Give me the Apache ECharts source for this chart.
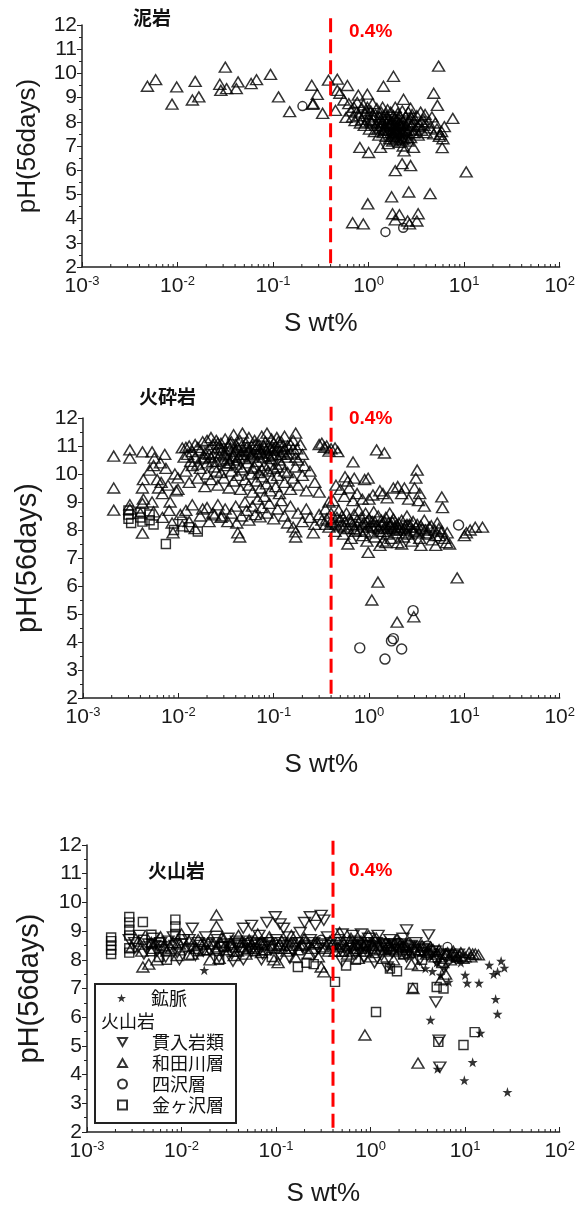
<!DOCTYPE html>
<html><head><meta charset="utf-8">
<script src="https://cdn.jsdelivr.net/npm/echarts@6/dist/echarts.min.js"></script>
<style>html,body{margin:0;padding:0;background:#fff}#c{width:578px;height:1209px}</style>
</head><body><div id="c"></div>
<script>
// ---------- tick labels ----------
const xTickExponents = ['-3','-2','-1','0','1','2'];
const yTicks = [2,3,4,5,6,7,8,9,10,11,12];
const panelTitles = ['泥岩','火砕岩','火山岩'];
const thresholdS = 0.4;
const thresholdLabel = '0.4%';

// ---------- panel 1 (泥岩) ----------
const p1Triangles = [
[0.00484,9.47],[0.0059,9.74],[0.00875,8.73],[0.0098,9.44],[0.0143,8.9],[0.0153,9.67],[0.0167,9.03],[0.0277,9.55],[0.0284,9.3],[0.0316,10.26],[0.0326,9.37],[0.0412,9.37],[0.043,9.65],[0.0589,9.58],[0.0671,9.74],[0.094,9.96],[0.114,9.03],[0.149,8.42],
[0.254,9.51],[0.262,8.76],[0.29,9.13],[0.26,8.72],[0.33,8.35],[0.38,9.72],[0.47,9.76],[0.45,8.47],[0.47,9.3],[0.5,9.18],[0.55,8.9],[0.6,9.5],[0.58,8.18],[0.78,9.1],[0.97,9.14],
[5.4,10.3],[1.82,9.88],[1.43,9.47],[2.32,8.93],[4.8,9.18],[5.25,8.68],[7.6,8.14],[2.75,8.56],[5.62,7.47],[5.89,6.93],[10.5,5.93],
[0.81,6.94],[1.0,6.73],[1.33,6.94],[2.35,6.8],[2.95,6.94],[1.9,5.98],[2.24,6.27],[2.75,6.19],
[0.98,4.61],[1.74,4.9],[2.63,5.1],[4.4,5.03],[0.68,3.83],[0.88,3.78],[1.78,4.2],[2.1,4.16],[1.9,3.95],[2.56,3.9],[2.68,3.78],[3.3,4.2],[3.2,3.9],
[0.62,8.75],[0.65,8.45],[0.68,8.2],[0.7,8.6],[0.72,8.05],[0.75,8.4],[0.76,8.8],[0.8,8.25],[0.82,7.95],[0.85,8.55],[0.85,8.1],[0.88,8.7],[0.9,7.85],[0.92,8.35],[0.95,8.0],[0.97,8.6],
[1.0,8.2],[1.02,7.7],[1.05,8.45],[1.08,7.95],[1.1,8.75],[1.12,8.1],[1.15,7.6],[1.18,8.3],[1.2,7.85],[1.22,8.55],[1.25,8.0],[1.28,7.45],[1.3,8.2],[1.32,7.75],[1.35,8.4],[1.38,7.95],
[1.4,8.6],[1.42,7.55],[1.45,8.1],[1.48,7.8],[1.5,8.3],[1.52,7.4],[1.55,7.95],[1.58,8.5],[1.6,7.65],[1.62,8.15],[1.65,7.3],[1.68,7.85],[1.7,8.4],[1.72,7.55],[1.75,8.0],[1.78,7.2],
[1.8,7.7],[1.82,8.25],[1.85,7.45],[1.88,7.9],[1.9,8.6],[1.92,7.6],[1.95,8.1],[1.98,7.35],[2.0,7.8],[2.02,8.35],[2.05,7.5],[2.08,7.95],[2.1,7.15],[2.12,7.7],[2.15,8.2],[2.18,7.4],
[2.2,7.85],[2.25,8.45],[2.28,7.6],[2.3,8.05],[2.35,7.3],[2.4,7.75],[2.45,8.2],[2.5,7.5],[2.55,7.95],[2.6,8.4],[2.65,7.65],[2.7,8.1],[2.75,7.35],[2.8,7.85],[2.85,8.3],[2.9,7.55],
[3.0,8.0],[3.1,7.7],[3.2,8.25],[3.3,7.45],[3.4,7.9],[3.5,8.4],[3.6,7.65],[3.7,8.1],[3.8,7.85],[3.9,8.3],[4.0,7.55],[4.2,8.0],[4.4,7.75],[4.6,8.2],[4.8,7.5],[5.0,7.95],
[5.2,7.7],[5.5,7.4],[5.8,7.6],[6.0,7.3],[6.2,7.8],[1.6,7.1],[2.3,7.0],[1.9,7.25],[2.6,7.2],
[1.25,7.7],[1.35,8.1],[1.45,7.65],[1.55,8.2],[1.65,7.9],[1.75,7.4],[1.85,8.1],[1.95,7.55],[2.05,8.15],[2.15,7.85],[2.25,7.25],[2.35,7.9],[2.45,7.65],[2.55,7.35],[2.65,8.0],[1.7,7.95],
[1.8,7.5],[1.9,7.75],[2.0,7.65],[2.1,7.95],[2.2,7.55],[2.4,7.45],[1.6,8.05],[1.5,7.7],[1.4,7.85],[3.0,7.55],[3.3,7.8],[3.6,8.0],[1.1,8.3],[0.95,8.45],[1.05,8.05],[2.8,8.15]
];
const p1Circles = [[0.203,8.65],[1.5,3.45],[2.3,3.62]];

// ---------- panel 2 (火砕岩) ----------
const p2Triangles = [
[0.0021,10.64],[0.0021,9.5],[0.0021,8.71],[0.0031,10.86],[0.0031,10.57],[0.0031,8.9],[0.0031,8.75],
[0.0042,10.79],[0.0042,9.5],[0.0043,9.8],[0.0043,9.1],[0.0042,8.95],[0.0042,7.89],[0.004,8.6],
[0.0053,10.79],[0.005,10.14],[0.0056,10.57],[0.0055,10.3],[0.0053,9.0],[0.0055,8.65],
[0.006,9.8],[0.0062,9.5],[0.0065,10.4],[0.0068,9.3],[0.0066,9.7],[0.0068,8.45],[0.0072,10.7],[0.0074,10.2],[0.0078,9.6],[0.0082,9.0],[0.008,8.7],[0.0086,8.25],[0.0088,7.9],[0.0092,10.0],[0.0095,9.4],[0.0099,9.86],[0.0099,9.45],[0.0105,8.55],[0.011,8.15],[0.011,10.93],[0.0115,10.6],
[0.012,10.95],[0.0125,10.7],[0.013,11.0],[0.0135,10.45],[0.014,10.8],[0.015,10.6],[0.015,11.05],[0.016,10.35],[0.017,10.85],[0.018,11.15],[0.018,10.55],[0.019,10.75],[0.02,11.2],[0.02,10.4],[0.021,10.9],[0.022,11.3],
[0.022,10.6],[0.023,11.05],[0.024,10.75],[0.025,11.2],[0.025,10.45],[0.026,10.95],[0.027,10.65],[0.028,11.1],[0.029,10.85],[0.03,10.5],[0.031,11.25],[0.032,10.75],[0.033,11.0],[0.034,10.4],[0.035,10.9],[0.036,11.15],
[0.037,10.6],[0.038,11.4],[0.039,10.8],[0.04,11.05],[0.041,10.5],[0.042,10.95],[0.044,11.2],[0.045,10.7],[0.047,11.46],[0.048,10.85],[0.05,10.55],[0.051,11.1],[0.053,10.8],[0.055,11.3],[0.057,10.65],[0.059,11.0],
[0.061,10.75],[0.063,11.2],[0.065,10.9],[0.067,10.45],[0.07,11.05],[0.072,10.8],[0.075,11.35],[0.078,10.6],[0.08,10.95],[0.082,11.15],[0.085,11.46],[0.086,10.75],[0.09,11.0],[0.093,10.55],[0.095,11.25],[0.098,10.85],
[0.1,11.1],[0.104,10.7],[0.108,11.3],[0.11,10.95],[0.115,10.5],[0.12,11.15],[0.125,10.8],[0.13,11.35],[0.135,10.6],[0.14,11.0],[0.15,10.75],[0.16,11.2],[0.17,11.46],[0.175,10.9],[0.18,10.5],[0.19,11.05],[0.2,10.7],[0.21,10.3],
[0.016,10.95],[0.019,10.6],[0.021,10.7],[0.023,10.45],[0.026,11.1],[0.028,10.9],[0.03,10.7],[0.033,10.55],[0.035,11.1],[0.038,10.65],[0.04,10.85],[0.043,10.6],[0.046,11.0],[0.049,10.7],[0.052,10.95],[0.056,10.85],
[0.06,10.6],[0.064,11.05],[0.068,10.7],[0.071,10.9],[0.075,10.75],[0.079,11.0],[0.083,10.85],[0.088,10.65],[0.092,10.9],[0.097,10.65],[0.1,10.9],[0.107,10.85],[0.112,11.15],[0.118,10.7],[0.125,11.0],[0.13,10.9],
[0.14,10.7],[0.15,11.05],[0.16,10.9],[0.17,10.6],[0.045,10.25],[0.06,10.2],[0.075,10.15],[0.09,10.35],[0.11,10.25],[0.13,10.1],[0.025,10.1],[0.035,10.4],
[0.012,10.1],[0.013,9.7],[0.014,10.3],[0.016,9.85],[0.017,10.2],[0.019,9.55],[0.02,10.0],[0.022,9.8],[0.024,10.25],[0.026,9.6],[0.028,10.05],[0.03,9.85],[0.032,10.3],[0.034,9.5],[0.036,10.1],[0.038,9.75],
[0.04,10.35],[0.042,9.95],[0.045,9.45],[0.047,10.15],[0.05,9.8],[0.053,10.4],[0.055,9.6],[0.058,10.0],[0.06,9.35],[0.063,10.25],[0.066,9.75],[0.07,10.05],[0.073,9.5],[0.076,9.9],[0.08,10.3],[0.084,9.65],
[0.088,10.1],[0.092,9.4],[0.096,9.85],[0.1,10.2],[0.105,9.55],[0.11,9.95],[0.115,9.3],[0.12,10.35],[0.13,9.7],[0.14,10.05],[0.15,9.45],[0.16,9.85],[0.17,10.25],[0.18,9.6],[0.2,9.95],[0.22,9.4],[0.24,10.1],[0.27,9.7],[0.3,9.35],
[0.012,8.7],[0.013,8.3],[0.014,8.9],[0.015,8.05],[0.017,8.5],[0.018,8.75],[0.02,8.8],[0.021,8.3],[0.023,8.6],[0.024,8.54],[0.026,8.9],[0.028,8.45],[0.029,8.5],[0.031,8.75],[0.033,8.3],[0.036,8.6],
[0.04,8.85],[0.041,8.25],[0.042,7.9],[0.044,7.75],[0.046,8.5],[0.05,9.0],[0.052,8.7],[0.055,8.35],[0.06,8.85],[0.064,8.55],[0.068,9.1],[0.072,8.47],[0.075,8.8],[0.08,9.2],[0.085,8.6],[0.09,8.95],
[0.1,8.4],[0.11,8.75],[0.12,9.05],[0.13,8.5],[0.14,8.25],[0.15,8.85],[0.16,8.1],[0.17,7.93],[0.17,7.75],[0.18,8.6],[0.2,8.3],[0.22,8.75],[0.24,8.45],[0.26,7.9],[0.27,8.2],[0.3,8.55],[0.32,8.35],[0.35,8.75],[0.38,9.0],
[0.32,11.1],[0.34,10.95],[0.36,11.0],[0.4,10.9],[0.44,10.93],[0.47,10.8],[0.3,11.05],[0.38,10.82],
[0.68,10.43],[1.2,10.86],[1.45,10.75],[0.56,9.9],[0.6,9.75],[0.7,9.85],[0.9,9.8],[0.5,9.45],[0.55,9.2],[0.62,9.5],[0.68,9.05],[0.75,9.3],[0.85,9.1],[0.98,9.85],[1.0,9.1],[1.1,9.25],
[1.3,9.4],[1.4,9.3],[1.55,9.15],[1.8,9.5],[2.0,9.55],[2.35,9.5],[2.2,9.3],[2.6,9.1],[3.2,10.14],[3.1,9.85],[3.0,9.5],[3.4,9.3],[3.3,9.05],[3.8,8.85],[5.8,9.18],[5.9,8.8],[0.45,9.6],[0.42,9.05],
[0.36,8.4],[0.38,8.1],[0.4,8.6],[0.42,8.25],[0.44,7.95],[0.46,8.45],[0.48,8.7],[0.5,8.15],[0.52,8.5],[0.54,7.85],[0.56,8.3],[0.58,8.6],[0.6,8.05],[0.62,8.4],[0.65,7.7],[0.67,8.2],
[0.7,8.55],[0.72,7.95],[0.75,8.35],[0.78,8.7],[0.8,8.0],[0.83,8.45],[0.86,7.8],[0.89,8.25],[0.92,8.6],[0.95,7.6],[0.98,8.1],[1.0,8.4],[1.05,7.9],[1.08,8.3],[1.12,8.65],[1.15,7.75],
[1.2,8.15],[1.25,8.5],[1.3,7.95],[1.35,8.35],[1.4,7.6],[1.45,8.1],[1.5,8.45],[1.55,7.85],[1.6,8.25],[1.65,8.6],[1.7,7.7],[1.75,8.05],[1.8,8.4],[1.9,7.9],[1.95,8.2],[2.0,7.55],
[2.1,8.0],[2.2,8.35],[2.3,7.75],[2.4,8.15],[2.5,8.5],[2.6,7.85],[2.7,8.1],[2.8,7.6],[2.9,8.3],[3.0,7.95],[3.2,8.2],[3.4,7.7],[3.6,8.05],[3.8,8.35],[4.0,7.85],[4.3,8.1],
[4.6,7.65],[4.9,8.0],[5.2,8.25],[5.5,7.8],[5.8,7.95],[6.2,7.7],[6.6,7.9],[7.0,7.5],[0.6,7.5],[0.98,7.2],[1.3,7.45],[1.5,7.55],[2.2,7.5],[3.5,7.45],[5.0,7.45],[6.5,7.55],
[0.45,8.2],[0.55,8.1],[0.65,8.3],[0.75,8.15],[0.85,8.2],[0.95,8.3],[1.05,8.15],[1.15,8.3],[1.25,8.05],[1.35,8.2],[1.45,8.3],[1.55,8.05],[1.65,8.15],[1.75,8.3],[1.85,8.1],[1.95,8.0],
[2.05,8.25],[2.15,8.1],[2.35,8.05],[2.45,7.9],[2.65,8.2],[2.85,8.0],[3.1,8.1],[3.3,7.9],[3.5,8.15],[3.9,8.0],[4.2,7.9],[4.5,8.15],[5.0,7.8],[5.4,8.05],[0.5,8.35],[0.7,8.05],
[0.9,7.95],[1.1,8.1],[1.4,7.95],[1.7,8.2],[2.0,8.1],[2.5,8.2],[0.4,8.3],[0.35,8.2],
[10.5,7.9],[11.5,8.0],[13,8.1],[15.5,8.1],[10,7.8],[8.4,6.29],[1.24,6.14],[1.07,5.5],[1.97,4.71],[2.95,4.9]
];
const p2Squares = [[0.003,8.7],[0.003,8.55],[0.003,8.4],[0.0032,8.25],[0.004,8.65],[0.004,8.45],[0.0042,8.3],[0.005,8.55],[0.005,8.35],[0.0055,8.2],[0.0074,7.5],[0.009,8.0],[0.011,8.3],[0.013,8.1],[0.016,7.95]];
const p2Circles = [[8.7,8.18],[2.9,5.12],[0.8,3.79],[1.47,3.39],[1.72,4.04],[1.8,4.12],[2.2,3.75]];

// ---------- panel 3 (火山岩) ----------
const p3Vein = [[0.0174,7.64],[4.3,5.9],[5.1,4.2],[9.8,3.8],[12,4.43],[14.5,5.45],[28,3.39],[21,6.63],[22,6.11],[10,7.47],[10.5,7.19],[14,7.19],[6.7,7.23],[5.5,7.47],[18,7.82],[22,7.58],[26,7.72],[24,7.96],[20,7.5],[4.5,7.6],[5,7.9],[6,7.75],[3.8,7.7],[1.6,7.75],[7.5,8.0],[8.5,8.1],[11,8.15],[9,7.9]];
const p3Intrusive = [
[0.0028,8.7],[0.0032,8.4],[0.0036,8.85],[0.004,8.2],[0.0045,8.55],[0.005,8.75],[0.0055,8.3],[0.006,8.6],[0.0068,8.1],[0.0075,8.45],[0.0082,8.8],[0.009,8.25],[0.01,8.55],[0.011,8.35],[0.012,8.7],[0.013,9.1],
[0.014,8.15],[0.016,8.5],[0.018,8.8],[0.02,8.3],[0.022,8.6],[0.025,8.1],[0.028,8.45],[0.031,8.75],[0.034,8.2],[0.037,8.55],[0.04,8.4],[0.045,9.1],[0.045,8.0],[0.05,8.65],[0.055,9.2],[0.055,8.3],
[0.06,8.5],[0.066,8.85],[0.072,8.2],[0.08,9.3],[0.08,8.6],[0.088,8.35],[0.098,9.5],[0.1,8.7],[0.11,9.25],[0.11,8.15],[0.12,9.1],[0.12,8.5],[0.135,8.8],[0.15,8.3],[0.165,8.6],[0.18,8.95],
[0.2,9.3],[0.2,8.4],[0.23,9.5],[0.23,8.7],[0.26,9.2],[0.26,8.25],[0.3,9.55],[0.3,8.55],[0.32,9.38],[0.35,8.8],[0.4,8.4],[0.45,8.7],[0.5,8.9],[0.55,8.3],[0.6,8.6],[0.65,8.85],
[0.7,8.2],[0.75,8.5],[0.8,8.9],[0.85,8.1],[0.9,8.45],[0.95,8.75],[1.0,8.3],[1.1,8.6],[1.2,8.85],[1.3,8.15],[1.4,8.5],[1.5,7.75],[1.6,8.7],[1.7,8.25],[1.8,8.55],[2.0,8.35],
[2.2,8.75],[2.4,9.04],[2.4,8.1],[2.6,8.45],[2.8,8.2],[3.0,8.6],[3.3,8.0],[3.6,8.4],[4.1,8.87],[4.0,8.15],[4.5,8.3],[5.0,7.95],[5.5,8.2],[6.0,7.7],[4.9,6.53],[5.3,5.2],
[5.4,4.26],[0.0095,8.0],[0.035,7.95],[0.07,8.0],[0.14,8.05],[0.5,7.95],[1.1,7.9],
[0.0032,8.6],[0.0042,8.45],[0.0052,8.5],[0.0062,8.35],[0.0072,8.65],[0.0085,8.5],[0.0105,8.7],[0.0125,8.4],[0.015,8.6],[0.017,8.3],[0.019,8.55],[0.021,8.45],[0.024,8.7],[0.027,8.3],[0.03,8.55],[0.033,8.45],
[0.038,8.65],[0.042,8.3],[0.048,8.5],[0.053,8.4],[0.058,8.6],[0.064,8.35],[0.07,8.55],[0.076,8.45],[0.085,8.6],[0.093,8.5],[0.105,8.4],[0.115,8.6],[0.13,8.45],[0.145,8.55],[0.16,8.4],[0.175,8.6],
[0.19,8.45],[0.22,8.5],[0.25,8.6],[0.28,8.4],[0.33,8.5],[0.38,8.6],[0.43,8.5],[0.48,8.35],[0.53,8.6],[0.58,8.5],[0.63,8.4],[0.68,8.65],[0.73,8.45],[0.78,8.6],[0.83,8.5],[0.88,8.35],
[0.93,8.6],[0.98,8.5],[1.05,8.45],[1.15,8.6],[1.25,8.45],[1.35,8.55],[1.45,8.4],[1.55,8.55],[1.65,8.4],[1.75,8.5],[1.9,8.45],[2.1,8.55],[2.3,8.4],[2.5,8.3],[2.7,8.5],[2.9,8.35],
[3.2,8.45],[3.5,8.25],[3.8,8.35],[4.3,8.2],[4.8,8.3],[5.2,8.1],[6.0,8.15],[6.8,8.2],[7.5,8.15],[8.5,8.2]
];
const p3Wadagawa = [
[0.003,8.45],[0.0035,8.65],[0.0039,7.75],[0.0045,7.85],[0.005,8.4],[0.0055,8.0],[0.006,8.8],[0.007,8.3],[0.008,8.6],[0.009,8.15],[0.01,8.9],[0.011,8.45],[0.013,8.2],[0.015,8.7],[0.017,8.35],[0.02,8.0],
[0.021,8.55],[0.0234,9.56],[0.0234,9.17],[0.025,8.05],[0.027,8.8],[0.03,8.35],[0.033,8.6],[0.036,8.15],[0.04,8.85],[0.044,8.45],[0.048,8.2],[0.052,8.7],[0.058,8.4],[0.064,8.9],[0.07,8.25],[0.075,8.55],
[0.085,8.8],[0.095,8.0],[0.1,8.4],[0.105,7.9],[0.115,8.65],[0.13,8.3],[0.145,8.85],[0.16,8.1],[0.18,8.5],[0.2,8.75],[0.22,8.2],[0.25,8.55],[0.28,8.1],[0.3,7.75],[0.32,7.58],[0.33,8.4],
[0.37,8.65],[0.42,8.3],[0.47,8.95],[0.52,8.55],[0.57,8.2],[0.62,8.75],[0.68,8.4],[0.74,8.05],[0.8,8.6],[0.87,8.3],[0.95,8.85],[1.0,8.1],[1.05,8.5],[1.15,8.75],[1.25,8.35],[1.35,8.05],
[1.45,8.6],[1.6,8.4],[1.75,8.0],[1.9,8.7],[2.1,8.45],[2.3,8.2],[2.5,8.6],[2.7,7.85],[3.0,8.3],[3.2,7.8],[3.5,8.5],[3.9,8.2],[4.3,8.45],[4.8,8.1],[5.3,8.35],[5.8,7.9],
[6.5,8.25],[7.0,8.0],[7.5,8.3],[8.2,8.1],[9.0,8.25],[10,8.1],[11,8.25],[12,8.2],[13.8,8.17],[2.8,7.0],[0.87,5.38],[3.17,4.4],[6.2,7.5],[5.5,7.3],
[0.0038,8.3],[0.0048,8.6],[0.0065,8.5],[0.0078,8.4],[0.0095,8.55],[0.012,8.65],[0.014,8.4],[0.016,8.55],[0.019,8.35],[0.023,8.4],[0.026,8.6],[0.029,8.5],[0.035,8.45],[0.039,8.3],[0.046,8.6],[0.05,8.4],
[0.055,8.55],[0.062,8.45],[0.068,8.6],[0.078,8.35],[0.09,8.5],[0.11,8.55],[0.125,8.4],[0.14,8.5],[0.17,8.35],[0.19,8.55],[0.24,8.4],[0.27,8.6],[0.31,8.45],[0.36,8.3],[0.4,8.55],[0.45,8.45],
[0.5,8.3],[0.55,8.45],[0.6,8.5],[0.66,8.3],[0.72,8.55],[0.78,8.4],[0.84,8.5],[0.9,8.3],[1.1,8.4],[1.2,8.55],[1.3,8.45],[1.4,8.3],[1.55,8.5],[1.7,8.35],[1.85,8.45],[2.0,8.3],
[2.2,8.5],[2.4,8.35],[2.6,8.25],[2.9,8.45],[3.3,8.35],[3.7,8.3],[4.1,8.25],[4.6,8.35],[5.1,8.2],[5.6,8.1],[6.2,8.2],[7.2,8.15],[8.8,8.15],[9.5,8.05],[11.5,8.1],[12.8,8.2]
];
const p3Yotsuzawa = [[0.006,8.5],[0.05,8.6],[0.3,8.7],[0.9,8.5],[2.0,8.6],[4.0,8.5],[6.5,8.45],[1.5,8.35]];
const p3Kanegasawa = [
[0.0018,8.2],[0.0018,8.35],[0.0018,8.5],[0.0018,8.65],[0.0018,8.78],[0.0028,9.49],[0.0028,9.3],[0.0028,9.05],[0.0028,8.85],[0.0028,8.4],[0.0028,8.25],[0.0039,9.32],[0.0039,8.7],[0.0048,8.87],[0.0048,8.55],[0.0048,8.3],
[0.0058,8.6],[0.0058,8.1],[0.0086,9.4],[0.0086,9.16],[0.0086,8.9],[0.007,8.0],[0.012,8.15],[0.015,8.3],[0.025,8.0],[0.028,8.45],[0.04,8.6],[0.06,8.3],[0.09,8.1],[0.17,7.75],[0.21,7.9],[0.25,7.85],
[0.42,7.23],[0.55,7.8],[0.7,8.0],[1.14,6.18],[1.6,7.7],[1.9,7.6],[2.8,7.02],[5.0,7.05],[5.9,7.0],[5.2,5.14],[9.6,5.03],[12.6,5.48],[3.5,8.0],[2.2,8.2],[8,8.1]
];

// ---------- drawing ----------
const FONT = "'Liberation Sans Narrow','Liberation Sans',Arial,sans-serif";
const CJK = "'Noto Sans CJK JP','Noto Sans CJK SC',sans-serif";
const STAR = 'path://M5,0L6.2,3.6L10,3.6L7,5.9L8.1,9.5L5,7.3L1.9,9.5L3,5.9L0,3.6L3.8,3.6Z';
const DOWN = 'path://M0,0L10,0L5,9Z';
const UP = 'path://M5,0L10,9L0,9Z';

const grids = [
  {left:82, right:16, top:25, height:242},
  {left:83, right:16, top:418, height:280},
  {left:87, right:16, top:845, height:287}
];
const xNameGaps = [44, 54, 49];
const yNameGaps = [41, 41, 43];
const yNameSizes = [26, 29, 29];
const dashTop = [12.4, 12.5, 12.35];

const minorTickVals = [];
for (let e = -3; e < 2; e++) for (let m = 2; m < 10; m++) minorTickVals.push([m * Math.pow(10, e), 2]);

function scatter(gi, name, data, symbol, size, filled) {
  return {
    type:'scatter', name, data, symbol, symbolSize:size, xAxisIndex:gi, yAxisIndex:gi, silent:true,
    itemStyle: filled ? {color:'#000'} : {color:'rgba(255,255,255,0)', borderColor:'#000', borderWidth:1.45}
  };
}

const xAxes = grids.map((g, i) => ({
  type:'log', logBase:10, min:0.001, max:100, gridIndex:i,
  axisLine:{lineStyle:{color:'#222', width:1.5}},
  axisTick:{show:true, inside:true, length:5, lineStyle:{color:'#222'}},
  splitLine:{show:false},
  axisLabel:{
    margin:8, color:'#1a1a1a',
    formatter:(v) => { const e = Math.round(Math.log10(v)); const k = xTickExponents[e + 3]; return '{b|10}{s|' + k + '}'; },
    rich:{ b:{fontSize:21, fontFamily:FONT, color:'#1a1a1a'}, s:{fontSize:13, fontFamily:FONT, color:'#1a1a1a', verticalAlign:'top', padding:[0,0,10,0]} }
  },
  name:'S wt%', nameLocation:'middle', nameGap:xNameGaps[i],
  nameTextStyle:{fontSize:26, fontFamily:"'Liberation Sans',Arial,sans-serif", color:'#1a1a1a'}
}));
const yAxes = grids.map((g, i) => ({
  type:'value', min:yTicks[0], max:yTicks[yTicks.length-1], interval:1, gridIndex:i,
  axisLine:{show:true, lineStyle:{color:'#222', width:1.5}},
  axisTick:{show:true, length:5, lineStyle:{color:'#222'}},
  minorTick:{show:true, splitNumber:2, length:3, lineStyle:{color:'#222'}},
  splitLine:{show:false},
  axisLabel:{margin:5, fontSize:21, fontFamily:FONT, color:'#1a1a1a'},
  name:'pH(56days)', nameLocation:'middle', nameGap:yNameGaps[i],
  nameTextStyle:{fontSize:yNameSizes[i], fontFamily:"'Liberation Sans',Arial,sans-serif", color:'#1a1a1a'}
}));

const series = [];
grids.forEach((g, i) => {
  series.push({
    type:'custom', xAxisIndex:i, yAxisIndex:i, silent:true, clip:false, data:minorTickVals,
    renderItem:(params, api) => {
      const p = api.coord([api.value(0), api.value(1)]);
      return {type:'line', shape:{x1:p[0], y1:p[1], x2:p[0], y2:p[1]-3}, style:{stroke:'#222', lineWidth:1}};
    }
  });
});
series.push(scatter(0, 'p1tri', p1Triangles, UP, [12,10], false));
series.push(scatter(0, 'p1cir', p1Circles, 'circle', 9, false));
series.push(scatter(1, 'p2sq', p2Squares, 'rect', 9, false));
series.push(scatter(1, 'p2tri', p2Triangles, UP, [12,10], false));
series.push(scatter(1, 'p2cir', p2Circles, 'circle', 10, false));
series.push(scatter(2, '金ヶ沢層', p3Kanegasawa, 'rect', 9, false));
series.push(scatter(2, '和田川層', p3Wadagawa, UP, [12,10], false));
series.push(scatter(2, '貫入岩類', p3Intrusive, DOWN, [12,10], false));
series.push(scatter(2, '四沢層', p3Yotsuzawa, 'circle', 9, false));
series.push(scatter(2, '鉱脈', p3Vein, STAR, 10, true));
grids.forEach((g, i) => {
  series.push({
    type:'line', xAxisIndex:i, yAxisIndex:i, silent:true, clip:false, showSymbol:false, symbol:'none',
    data:[[thresholdS, 2.15], [thresholdS, dashTop[i]]],
    lineStyle:{color:'#ff0000', width:3, type:[14,7]}
  });
});

const titleTops = [8, 387, 861];
const titleLefts = [133, 139, 148];
const titles = [];
panelTitles.forEach((t, i) => {
  titles.push({text:t, left:titleLefts[i], top:titleTops[i], padding:0, textStyle:{fontSize:19, fontWeight:'bold', fontFamily:CJK, color:'#111'}});
  titles.push({text:thresholdLabel, left:349, top:[22, 409, 861][i], padding:0, textStyle:{fontSize:19, fontWeight:'bold', fontFamily:"'Liberation Sans',Arial,sans-serif", color:'#ff0000'}});
});

const legendText = {fontSize:18, fontFamily:CJK, color:'#111', padding:[0,0,0,20]};
const option = {
  animation:false,
  backgroundColor:'#fff',
  title:titles,
  grid:grids,
  xAxis:xAxes,
  yAxis:yAxes,
  legend:[
    {data:['鉱脈'], orient:'vertical', left:117, top:989, itemWidth:9, itemHeight:9, padding:0, selectedMode:false, textStyle:legendText},
    {data:['貫入岩類','和田川層','四沢層','金ヶ沢層'], orient:'vertical', left:117, top:1033, itemWidth:9, itemHeight:9, itemGap:3, padding:0, selectedMode:false, textStyle:legendText}
  ],
  graphic:[
    {type:'rect', shape:{x:95, y:984, width:141, height:139}, style:{fill:'none', stroke:'#222', lineWidth:2}, z:1},
    {type:'text', left:101, top:1012, style:{text:'火山岩', fontSize:18, fontFamily:CJK, fill:'#111'}, z:2}
  ],
  series
};
const chart = echarts.init(document.getElementById('c'), null, {renderer:'canvas'});
chart.setOption(option);
</script>
</body></html>
